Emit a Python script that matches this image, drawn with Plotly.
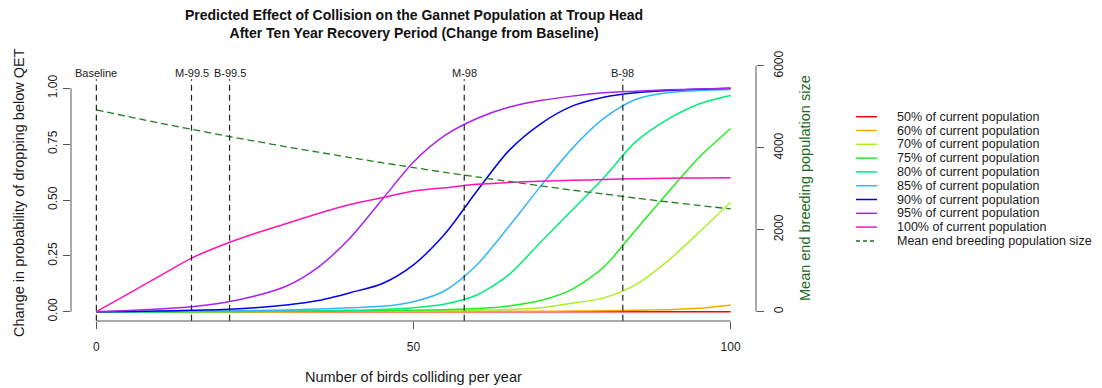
import plotly.graph_objects as go

# ---- data -------------------------------------------------------------
birds = [0, 5, 10, 15, 20, 25, 30, 35, 40, 45, 50,
         55, 60, 65, 70, 75, 80, 85, 90, 95, 100]

p50 = [0.0, 0.0, 0.0, 0.0, 0.0, 0.0, 0.0, 0.0, 0.0, 0.0, 0.0,
       0.0, 0.0, 0.0, 0.0, 0.0, 0.0, 0.0, 0.0, 0.0, 0.0]
p60 = [0.0, 0.0, 0.0, 0.0, 0.0, 0.0, 0.0, 0.0, 0.001, 0.001, 0.001,
       0.001, 0.001, 0.002, 0.002, 0.003, 0.004, 0.006, 0.009, 0.015, 0.03]
p70 = [0.0, 0.0, 0.0, 0.0, 0.0, 0.001, 0.001, 0.002, 0.002, 0.003, 0.004,
       0.005, 0.007, 0.01, 0.018, 0.038, 0.062, 0.12, 0.225, 0.355, 0.49]
p75 = [0.0, 0.0, 0.0, 0.0, 0.001, 0.001, 0.002, 0.002, 0.003, 0.004, 0.006,
       0.009, 0.014, 0.026, 0.05, 0.1, 0.2, 0.365, 0.53, 0.69, 0.82]
p80 = [0.0, 0.0, 0.0, 0.001, 0.001, 0.002, 0.003, 0.004, 0.006, 0.01, 0.018,
       0.035, 0.075, 0.165, 0.31, 0.455, 0.6, 0.76, 0.86, 0.93, 0.968]
p85 = [0.0, 0.0, 0.001, 0.002, 0.003, 0.005, 0.008, 0.012, 0.018, 0.024, 0.045,
       0.095, 0.21, 0.38, 0.56, 0.73, 0.865, 0.95, 0.98, 0.99, 0.995]
p90 = [0.0, 0.001, 0.003, 0.006, 0.01, 0.018, 0.03, 0.05, 0.085, 0.125, 0.21,
       0.35, 0.54, 0.72, 0.84, 0.92, 0.96, 0.98, 0.99, 0.996, 1.0]
p95 = [0.0, 0.005, 0.012, 0.022, 0.04, 0.07, 0.115, 0.2, 0.33, 0.5, 0.67,
       0.79, 0.865, 0.915, 0.945, 0.965, 0.98, 0.987, 0.993, 0.997, 1.0]
p100 = [0.0, 0.08, 0.16, 0.24, 0.30, 0.35, 0.395, 0.44, 0.48, 0.51, 0.54,
        0.555, 0.57, 0.578, 0.584, 0.588, 0.592, 0.595, 0.597, 0.599, 0.6]

mean_pop = [4926, 4765, 4605, 4455, 4305, 4165, 4025, 3895, 3765, 3640, 3520,
            3400, 3290, 3180, 3075, 2970, 2875, 2775, 2685, 2595, 2510]

series_labels = ["50% of current population", "60% of current population",
                 "70% of current population", "75% of current population",
                 "80% of current population", "85% of current population",
                 "90% of current population", "95% of current population",
                 "100% of current population"]
series_values = [p50, p60, p70, p75, p80, p85, p90, p95, p100]
series_colors = ["#FF0000", "#FFA500", "#ADF02A", "#22EE22", "#00EE77",
                 "#33B5FF", "#0000EE", "#AA22EE", "#FF14B4"]
mean_label = "Mean end breeding population size"
mean_color = "#1f7f1f"

ref_names = ["Baseline", "M-99.5", "B-99.5", "M-98", "B-98"]
ref_birds = [0, 15, 21, 58, 83]

x_ticks = [0, 50, 100]
y_ticks = [0, 0.25, 0.5, 0.75, 1.0]
y_ticktext = ["0.00", "0.25", "0.50", "0.75", "1.00"]
y2_ticks = [0, 2000, 4000, 6000]

# ---- page geometry (pixels) -------------------------------------------
W, H = 1102, 388
ML, MR, MT, MB = 71, 346, 56, 67
PW, PH = W - ML - MR, H - MT - MB


def px_x(px):
    return (px - ML) / PW


def px_y(py):
    return (H - MB - py) / PH


FONT = "Liberation Sans, Arial, sans-serif"
TXT = "#1a1a1a"
AX = "#555555"

fig = go.Figure()

for label, vals, col in zip(series_labels, series_values, series_colors):
    fig.add_trace(go.Scatter(x=birds, y=vals, mode="lines", name=label,
                             line=dict(color=col, width=1.5, shape="spline",
                                       smoothing=0.8),
                             showlegend=False, yaxis="y"))

fig.add_trace(go.Scatter(x=birds, y=mean_pop, mode="lines", name=mean_label,
                         line=dict(color=mean_color, width=1.3, dash="7px,4px",
                                   shape="spline", smoothing=0.8),
                         showlegend=False, yaxis="y2"))

shapes = []
annotations = []

# axis lines spanning only the tick range
shapes.append(dict(type="line", xref="x", yref="paper", x0=0, x1=100, y0=0, y1=0,
                   line=dict(color=AX, width=1)))
shapes.append(dict(type="line", xref="paper", yref="y", x0=0, x1=0, y0=0, y1=1,
                   line=dict(color=AX, width=1)))
shapes.append(dict(type="line", xref="paper", yref="y2", x0=1, x1=1, y0=0, y1=6000,
                   line=dict(color=AX, width=1)))

# reference collision levels
for name, xv in zip(ref_names, ref_birds):
    shapes.append(dict(type="line", xref="x", yref="y", x0=xv, x1=xv,
                       y0=-0.04, y1=1.04,
                       line=dict(color="#222222", width=1.2, dash="6px,4px")))
    annotations.append(dict(x=xv, xref="x", y=1.067, yref="y", text=name,
                            showarrow=False, xanchor="center", yanchor="middle",
                            font=dict(size=11, color=TXT, family=FONT)))

# title
annotations.append(dict(
    x=0.5, xref="paper", y=px_y(24.5), yref="paper",
    text="<b>Predicted Effect of Collision on the Gannet Population at Troup Head"
         "<br>After Ten Year Recovery Period (Change from Baseline)</b>",
    showarrow=False, xanchor="center", yanchor="middle",
    font=dict(size=14, color="#111111", family=FONT)))

# axis titles
annotations.append(dict(x=px_x(413), xref="paper", y=px_y(377), yref="paper",
                        text="Number of birds colliding per year", showarrow=False,
                        xanchor="center", yanchor="middle",
                        font=dict(size=14.5, color=TXT, family=FONT)))
annotations.append(dict(x=px_x(19), xref="paper", y=px_y(193), yref="paper",
                        text="Change in probability of dropping below QET",
                        textangle=-90, showarrow=False,
                        xanchor="center", yanchor="middle",
                        font=dict(size=14.5, color=TXT, family=FONT)))
annotations.append(dict(x=px_x(805), xref="paper", y=px_y(188), yref="paper",
                        text=mean_label, textangle=-90, showarrow=False,
                        xanchor="center", yanchor="middle",
                        font=dict(size=14.5, color="#1a6b1a", family=FONT)))

# legend, drawn as line samples and text
leg_y0, leg_dy = 116.7, 13.8
leg_items = list(zip(series_labels, series_colors, ["solid"] * len(series_labels)))
leg_items.append((mean_label, "#1a6b1a", "4px,3px"))
for i, (label, col, dash) in enumerate(leg_items):
    yy = px_y(leg_y0 + i * leg_dy)
    shapes.append(dict(type="line", xref="paper", yref="paper",
                       x0=px_x(856), x1=px_x(877), y0=yy, y1=yy,
                       line=dict(color=col, width=1.5, dash=dash)))
    annotations.append(dict(x=px_x(895), xref="paper", y=yy, yref="paper",
                            text=label, showarrow=False,
                            xanchor="left", yanchor="middle",
                            font=dict(size=12.5, color=TXT, family=FONT)))

fig.update_layout(
    width=W, height=H,
    margin=dict(l=ML, r=MR, t=MT, b=MB, pad=0),
    paper_bgcolor="white", plot_bgcolor="white",
    showlegend=False,
    font=dict(family=FONT, color=TXT, size=12),
    xaxis=dict(range=[-4, 104], tickvals=x_ticks, ticks="outside", ticklen=7,
               tickcolor=AX, showgrid=False, zeroline=False, showline=False,
               tickfont=dict(size=12, color=TXT), ticklabelstandoff=8),
    yaxis=dict(range=[-0.0416, 1.1446], tickvals=y_ticks, ticktext=y_ticktext,
               ticks="outside", ticklen=7, tickcolor=AX, tickangle=-90,
               showgrid=False, zeroline=False, showline=False,
               tickfont=dict(size=12, color=TXT), ticklabelstandoff=1),
    yaxis2=dict(range=[-227, 6244], tickvals=y2_ticks, overlaying="y",
                side="right", ticks="outside", ticklen=7, tickcolor=AX,
                tickangle=-90, showgrid=False, zeroline=False, showline=False,
                tickfont=dict(size=12, color=TXT), ticklabelstandoff=5),
    shapes=shapes,
    annotations=annotations,
)

fig.write_html("out.html")
